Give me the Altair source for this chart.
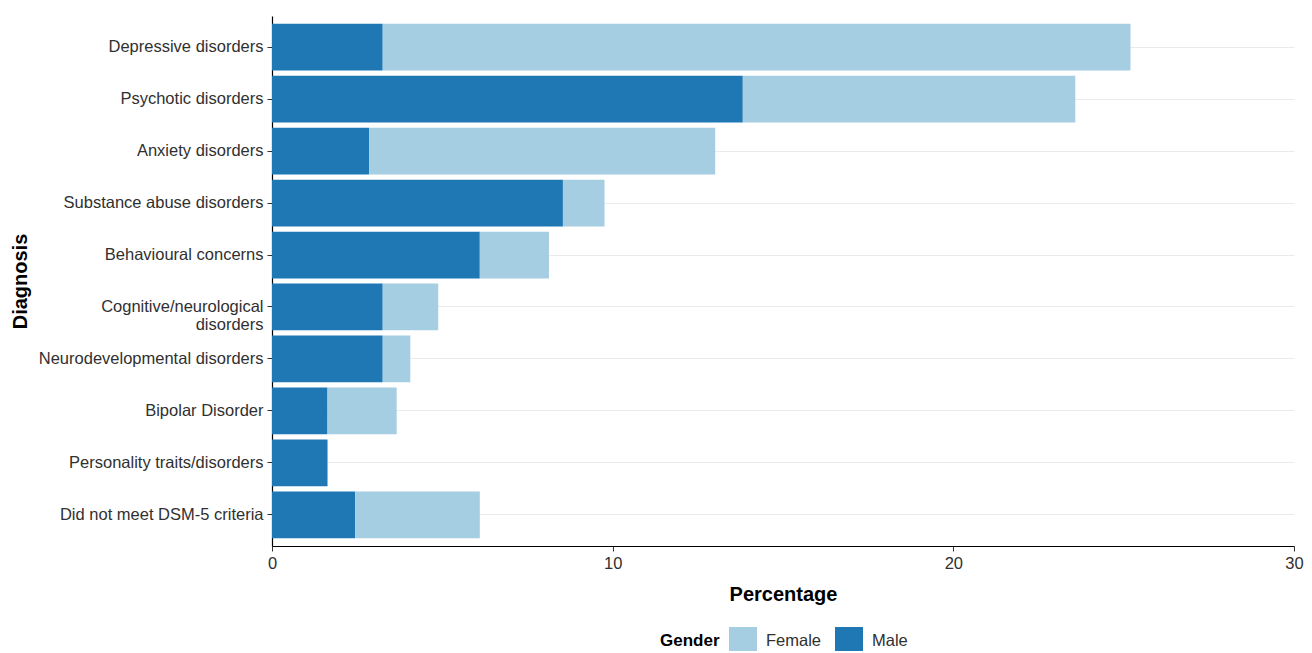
import altair as alt
import pandas as pd

diagnoses = [
    "Depressive disorders",
    "Psychotic disorders",
    "Anxiety disorders",
    "Substance abuse disorders",
    "Behavioural concerns",
    "Cognitive/neurological disorders",
    "Neurodevelopmental disorders",
    "Bipolar Disorder",
    "Personality traits/disorders",
    "Did not meet DSM-5 criteria",
]
male_pct = [3.25, 13.82, 2.85, 8.54, 6.10, 3.25, 3.25, 1.63, 1.63, 2.44]
female_pct = [21.95, 9.76, 10.16, 1.22, 2.03, 1.63, 0.81, 2.03, 0.0, 3.66]
genders = ["Female", "Male"]
colors = ["#a6cee3", "#1f78b4"]

rows = []
for d, m, f in zip(diagnoses, male_pct, female_pct):
    rows.append({"Diagnosis": d, "Gender": "Male", "Percentage": m, "ord": 0})
    rows.append({"Diagnosis": d, "Gender": "Female", "Percentage": f, "ord": 1})
df = pd.DataFrame(rows)

FONT = "Liberation Sans"

chart = (
    alt.Chart(df)
    .mark_bar(strokeWidth=0)
    .encode(
        y=alt.Y(
            "Diagnosis:N",
            sort=diagnoses,
            scale=alt.Scale(paddingInner=0.1, paddingOuter=0.15),
            axis=alt.Axis(
                title="Diagnosis",
                titleFont=FONT,
                titleFontSize=20,
                titleFontWeight="bold",
                titleColor="#000000",
                titleX=-252,
                titleY=265,
                titleAngle=270,
                titleAlign="center",
                titleBaseline="middle",
                labelFont=FONT,
                labelFontSize=16.5,
                labelColor="#303030",
                labelPadding=4,
                labelLineHeight=18,
                labelLimit=400,
                labelExpr="datum.label == 'Cognitive/neurological disorders' ? ['Cognitive/neurological', 'disorders'] : datum.label",
                tickSize=5,
                tickColor="#333333",
                domainColor="#000000",
                domainWidth=1.2,
                grid=True,
                gridColor="#ebebeb",
                gridWidth=1,
                bandPosition=0.5,
            ),
        ),
        x=alt.X(
            "Percentage:Q",
            stack="zero",
            scale=alt.Scale(domain=[0, 30], nice=False, zero=True),
            axis=alt.Axis(
                title="Percentage",
                values=[0, 10, 20, 30],
                titleFont=FONT,
                titleFontSize=20,
                titleFontWeight="bold",
                titleColor="#000000",
                titleY=48,
                titleBaseline="middle",
                labelFont=FONT,
                labelFontSize=16.5,
                labelColor="#303030",
                labelPadding=4,
                labelFlush=False,
                tickSize=5,
                tickColor="#333333",
                domainColor="#000000",
                domainWidth=1.2,
                grid=False,
            ),
        ),
        color=alt.Color(
            "Gender:N",
            scale=alt.Scale(domain=genders, range=colors),
            legend=alt.Legend(
                title="Gender",
                orient="none",
                direction="horizontal",
                legendX=388,
                legendY=611,
                titleOrient="left",
                titleFont=FONT,
                titleFontSize=17,
                titleFontWeight="bold",
                titleColor="#000000",
                titlePadding=9,
                labelFont=FONT,
                labelFontSize=16.5,
                labelColor="#303030",
                labelOffset=9,
                columnPadding=13,
                symbolType="square",
                symbolSize=784,
                symbolStrokeWidth=0,
                symbolOpacity=1,
            ),
        ),
        order=alt.Order("ord:Q"),
    )
    .properties(
        width=1022,
        height=530,
        autosize=alt.AutoSizeParams(type="none"),
        padding={"left": 264, "top": 8, "right": 10, "bottom": 105},
    )
    .configure_view(stroke=None)
)

chart.save("out.html", embed_options={"renderer": "svg", "actions": False})
